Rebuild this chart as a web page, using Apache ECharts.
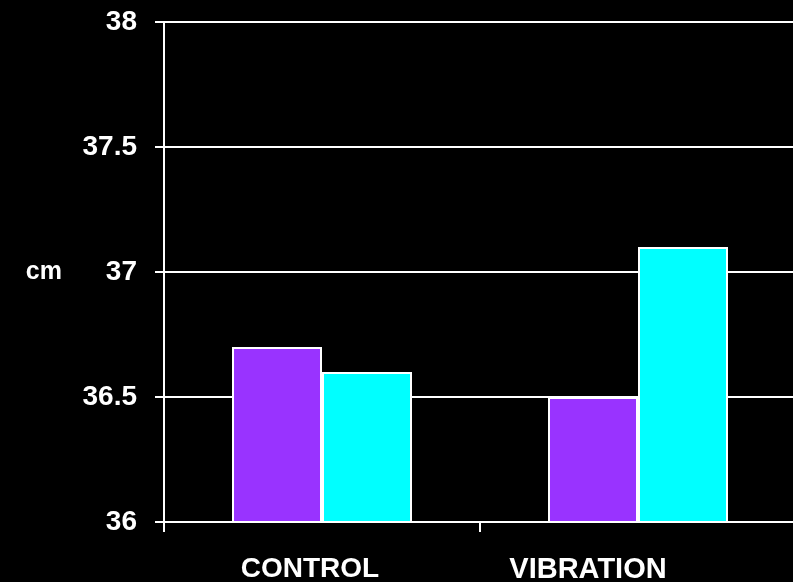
<!DOCTYPE html>
<html><head><meta charset="utf-8">
<script src="https://cdn.jsdelivr.net/npm/echarts@6/dist/echarts.min.js"></script>
<style>html,body{margin:0;padding:0;background:#000;}#c{width:793px;height:582px;}</style>
</head><body><div id="c"></div>
<script>
const categories = ['CONTROL', 'VIBRATION'];
const seriesA = [36.7, 36.5];
const seriesB = [36.6, 37.1];
const yTicks = [36, 36.5, 37, 37.5, 38];

const chart = echarts.init(document.getElementById('c'));
const font = 'Liberation Sans, Arial, sans-serif';
chart.setOption({
  backgroundColor: '#000',
  animation: false,
  grid: {left: 164, width: 632, top: 22, height: 500, containLabel: false, outerBoundsMode: 'none'},
  xAxis: {
    type: 'category', data: categories,
    axisLine: {lineStyle: {color: '#fff', width: 2}},
    axisTick: {show: true, length: 10, lineStyle: {color: '#fff', width: 2}},
    axisLabel: {
      margin: 33, color: '#fff',
      formatter: function (v, i) { return i === 0 ? '{a|' + v + '}' : '{b|' + v + '}'; },
      rich: {
        a: {fontSize: 28, fontWeight: 'bold', fontFamily: font, color: '#fff', padding: [0, 24, 0, 0]},
        b: {fontSize: 29, fontWeight: 'bold', fontFamily: font, color: '#fff', padding: [0, 100, 0, 0]}
      }
    }
  },
  yAxis: {
    type: 'value', min: yTicks[0], max: yTicks[yTicks.length - 1], interval: 0.5,
    name: 'cm', nameLocation: 'middle', nameRotate: 0, nameGap: 102,
    nameTextStyle: {color: '#fff', fontSize: 25, fontWeight: 'bold', fontFamily: font},
    axisLine: {show: true, lineStyle: {color: '#fff', width: 2}},
    axisTick: {show: true, length: 9, lineStyle: {color: '#fff', width: 2}},
    splitLine: {show: true, lineStyle: {color: '#fff', width: 2}},
    axisLabel: {margin: 27, color: '#fff', fontSize: 28, fontWeight: 'bold', fontFamily: font,
      formatter: function (v) { return String(v); }}
  },
  series: [
    {type: 'bar', data: seriesA, barWidth: 90, barGap: '0%',
     itemStyle: {color: '#9933FF', borderColor: '#fff', borderWidth: 2}},
    {type: 'bar', data: seriesB, barWidth: 90, barGap: '0%',
     itemStyle: {color: '#00FFFF', borderColor: '#fff', borderWidth: 2}}
  ]
});
</script></body></html>
